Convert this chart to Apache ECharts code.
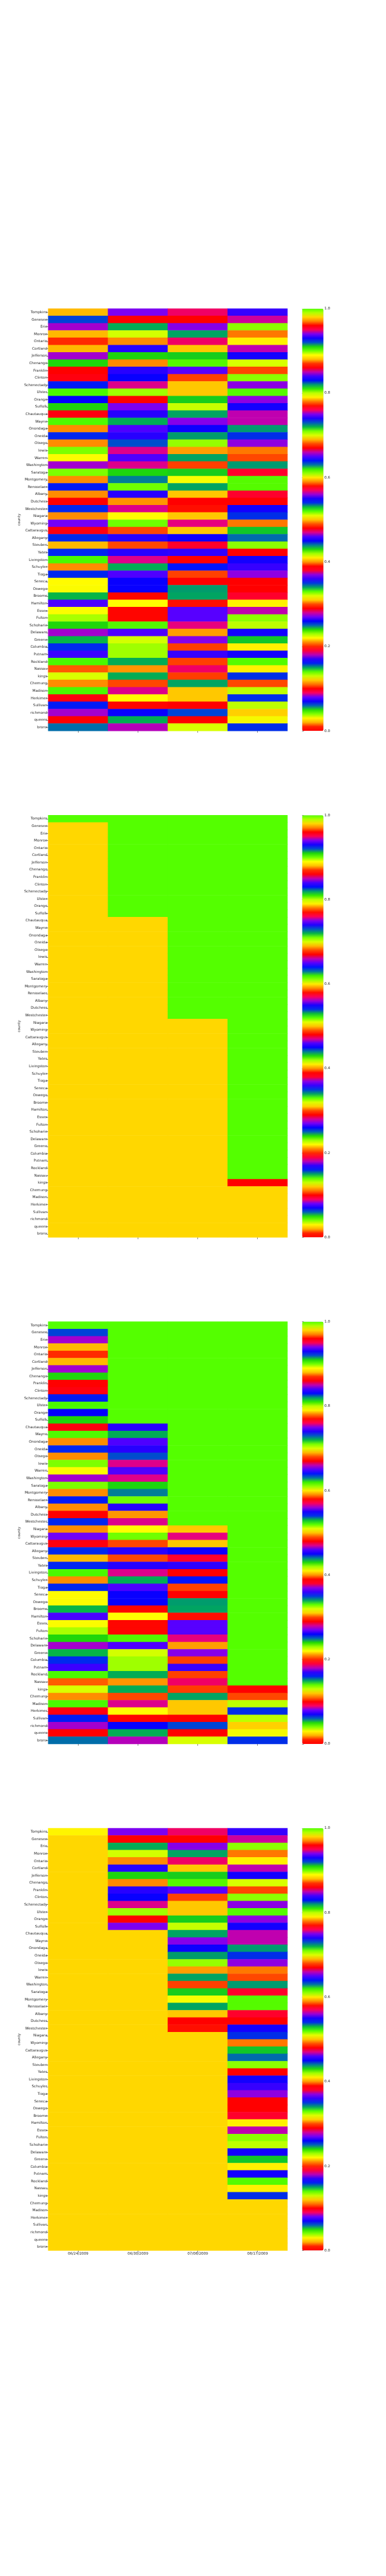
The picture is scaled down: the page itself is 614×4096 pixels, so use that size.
<!DOCTYPE html>
<html><head><meta charset="utf-8">
<script src="https://cdn.jsdelivr.net/npm/echarts@6/dist/echarts.min.js"></script>
<style>html,body{margin:0;padding:0;background:#fff}#c{width:614px;height:4096px}</style>
</head><body><div id="c"></div>
<script>
const COUNTIES = ['Tompkins','Genesee','Erie','Monroe','Ontario','Cortland','Jefferson','Chenango','Franklin','Clinton',
'Schenectady','Ulster','Orange','Suffolk','Chautauqua','Wayne','Onondaga','Oneida','Otsego','lewis',
'Warren','Washington','Saratoga','Montgomery','Rensselaer','Albany','Dutchess','Westchester','Niagara','Wyoming',
'Cattaraugus','Allegany','Steuben','Yates','Livingston','Schuyler','Tioga','Seneca','Oswego','Broome',
'Hamilton','Essex','Fulton','Schoharie','Delaware','Greene','Columbia','Putnam','Rockland','Nassau',
'kings','Chemung','Madison','Herkimer','Sullivan','richmond','queens','bronx'];
const DATES = ['06/24/2009','06/30/2009','07/08/2009','08/17/2009'];
const Y_TITLE = 'county';
const CBAR_MIN = 0.0, CBAR_MAX = 1.0, CBAR_STEP = 0.2;

// Panel 1
const P1_D1 = [0.2139,0.2536,0.2742,0.2120,0.2010,0.2120,0.2761,0.2416,0.1938,0.2857,
0.2574,0.2368,0.2608,0.2416,0.2861,0.2345,0.2091,0.2545,0.2086,0.2306,
0.2220,0.2742,0.2306,0.2101,0.2574,0.2086,0.1938,0.2555,0.2096,0.2727,
0.2857,0.2541,0.2120,0.2545,0.2368,0.2096,0.2555,0.2191,0.2220,0.2431,
0.2689,0.2220,0.2278,0.2416,0.2742,0.2426,0.2541,0.2656,0.2368,0.2043,
0.2239,0.2096,0.2368,0.2857,0.2574,0.2742,0.1938,0.2498];
const P1_D2 = [0.4636,0.3852,0.4354,0.4144,0.3986,0.4545,0.4306,0.3986,0.4545,0.4507,
0.4713,0.4196,0.3852,0.4636,0.4545,0.4354,0.4593,0.4541,0.4440,0.4699,
0.4603,0.4699,0.4306,0.4392,0.4249,0.4541,0.3995,0.4713,0.4105,0.4249,
0.3943,0.4541,0.3943,0.4541,0.4699,0.4354,0.4593,0.4507,0.4507,0.3890,
0.4105,0.3890,0.3885,0.4258,0.4603,0.4144,0.4196,0.4196,0.4354,0.4000,
0.4354,0.3943,0.4699,0.4105,0.3890,0.4507,0.4340,0.4684];
const P1_D3 = [0.6641,0.5766,0.6555,0.6258,0.6641,0.5967,0.6220,0.6172,0.6517,0.5856,
0.5967,0.5967,0.6220,0.6077,0.6258,0.6545,0.6421,0.6287,0.6105,0.5919,
0.6258,0.5856,0.6220,0.6029,0.6258,0.5967,0.5766,0.5804,0.5967,0.6612,
0.5967,0.6421,0.6679,0.6474,0.5766,0.6392,0.5856,0.5766,0.6287,0.6258,
0.5804,0.6517,0.6517,0.6612,0.5919,0.6545,0.5837,0.6483,0.5856,0.6641,
0.5837,0.6258,0.5967,0.5967,0.5766,0.6345,0.5766,0.6057];
const P1_D4 = [0.8397,0.8517,0.8034,0.7804,0.7923,0.8498,0.8345,0.7971,0.7766,0.8034,
0.8445,0.8086,0.8450,0.8345,0.8498,0.8498,0.8182,0.8282,0.8450,0.7804,
0.7766,0.8196,0.8565,0.8086,0.8086,0.8579,0.7679,0.8345,0.8282,0.7804,
0.8134,0.8239,0.8034,0.7679,0.8345,0.8397,0.8450,0.7679,0.7679,0.8565,
0.7919,0.8502,0.8034,0.7981,0.8345,0.8134,0.7919,0.8345,0.8086,0.7919,
0.8282,0.7761,0.7981,0.8282,0.7981,0.7880,0.7933,0.8282];

// Panel 2
const P2_D1 = [1.0,0.98,0.98,0.98,0.98,0.98,0.98,0.98,0.98,0.98,
0.98,0.98,0.98,0.98,0.98,0.98,0.98,0.98,0.98,0.98,
0.98,0.98,0.98,0.98,0.98,0.98,0.98,0.98,0.98,0.98,
0.98,0.98,0.98,0.98,0.98,0.98,0.98,0.98,0.98,0.98,
0.98,0.98,0.98,0.98,0.98,0.98,0.98,0.98,0.98,0.98,
0.98,0.98,0.98,0.98,0.98,0.98,0.98,0.98];
const P2_D2 = [1.0,1.0,1.0,1.0,1.0,1.0,1.0,1.0,1.0,1.0,
1.0,1.0,1.0,1.0,0.98,0.98,0.98,0.98,0.98,0.98,
0.98,0.98,0.98,0.98,0.98,0.98,0.98,0.98,0.98,0.98,
0.98,0.98,0.98,0.98,0.98,0.98,0.98,0.98,0.98,0.98,
0.98,0.98,0.98,0.98,0.98,0.98,0.98,0.98,0.98,0.98,
0.98,0.98,0.98,0.98,0.98,0.98,0.98,0.98];
const P2_D3 = [1.0,1.0,1.0,1.0,1.0,1.0,1.0,1.0,1.0,1.0,
1.0,1.0,1.0,1.0,1.0,1.0,1.0,1.0,1.0,1.0,
1.0,1.0,1.0,1.0,1.0,1.0,1.0,1.0,0.98,0.98,
0.98,0.98,0.98,0.98,0.98,0.98,0.98,0.98,0.98,0.98,
0.98,0.98,0.98,0.98,0.98,0.98,0.98,0.98,0.98,0.98,
0.98,0.98,0.98,0.98,0.98,0.98,0.98,0.98];
const P2_D4 = [1.0,1.0,1.0,1.0,1.0,1.0,1.0,1.0,1.0,1.0,
1.0,1.0,1.0,1.0,1.0,1.0,1.0,1.0,1.0,1.0,
1.0,1.0,1.0,1.0,1.0,1.0,1.0,1.0,1.0,1.0,
1.0,1.0,1.0,1.0,1.0,1.0,1.0,1.0,1.0,1.0,
1.0,1.0,1.0,1.0,1.0,1.0,1.0,1.0,1.0,1.0,
0.0,0.98,0.98,0.98,0.98,0.98,0.98,0.98];

// Panel 3
const P3_D1 = [1.0,0.2536,0.2742,0.2120,0.2010,0.2120,0.2761,0.2416,0.1938,0.2857,
0.2574,0.2368,0.2608,0.2416,0.2861,0.2345,0.2091,0.2545,0.2086,0.2306,
0.2220,0.2742,0.2306,0.2101,0.2574,0.2086,0.1938,0.2555,0.2096,0.2727,
0.2857,0.2541,0.2120,0.2545,0.2368,0.2096,0.2555,0.2191,0.2220,0.2431,
0.2689,0.2220,0.2278,0.2416,0.2742,0.2426,0.2541,0.2656,0.2368,0.2043,
0.2239,0.2096,0.2368,0.2857,0.2574,0.2742,0.1938,0.2498];
const P3_D2 = [1.0,1.0,1.0,1.0,1.0,1.0,1.0,1.0,1.0,1.0,
1.0,1.0,1.0,1.0,0.4545,0.4354,0.4593,0.4541,0.4440,0.4699,
0.4603,0.4699,0.4306,0.4392,0.4249,0.4541,0.3995,0.4713,0.4105,0.4249,
0.3943,0.4541,0.3943,0.4541,0.4699,0.4354,0.4593,0.4507,0.4507,0.3890,
0.4105,0.3890,0.3885,0.4258,0.4603,0.4144,0.4196,0.4196,0.4354,0.4000,
0.4354,0.3943,0.4699,0.4105,0.3890,0.4507,0.4340,0.4684];
const P3_D3 = [1.0,1.0,1.0,1.0,1.0,1.0,1.0,1.0,1.0,1.0,
1.0,1.0,1.0,1.0,1.0,1.0,1.0,1.0,1.0,1.0,
1.0,1.0,1.0,1.0,1.0,1.0,1.0,1.0,0.5967,0.6612,
0.5967,0.6421,0.6679,0.6474,0.5766,0.6392,0.5856,0.5766,0.6287,0.6258,
0.5804,0.6517,0.6517,0.6612,0.5919,0.6545,0.5837,0.6483,0.5856,0.6641,
0.5837,0.6258,0.5967,0.5967,0.5766,0.6345,0.5766,0.6057];
const P3_D4 = [1.0,1.0,1.0,1.0,1.0,1.0,1.0,1.0,1.0,1.0,
1.0,1.0,1.0,1.0,1.0,1.0,1.0,1.0,1.0,1.0,
1.0,1.0,1.0,1.0,1.0,1.0,1.0,1.0,1.0,1.0,
1.0,1.0,1.0,1.0,1.0,1.0,1.0,1.0,1.0,1.0,
1.0,1.0,1.0,1.0,1.0,1.0,1.0,1.0,1.0,1.0,
0.0,0.7761,0.7981,0.8282,0.7981,0.7880,0.7933,0.8282];

// Panel 4
const P4_D1 = [0.2187,0.98,0.98,0.98,0.98,0.98,0.98,0.98,0.98,0.98,
0.98,0.98,0.98,0.98,0.98,0.98,0.98,0.98,0.98,0.98,
0.98,0.98,0.98,0.98,0.98,0.98,0.98,0.98,0.98,0.98,
0.98,0.98,0.98,0.98,0.98,0.98,0.98,0.98,0.98,0.98,
0.98,0.98,0.98,0.98,0.98,0.98,0.98,0.98,0.98,0.98,
0.98,0.98,0.98,0.98,0.98,0.98,0.98,0.98];
const P4_D2 = [0.4636,0.3852,0.4354,0.4144,0.3986,0.4545,0.4306,0.3986,0.4545,0.4507,
0.4713,0.4196,0.3852,0.4636,0.98,0.98,0.98,0.98,0.98,0.98,
0.98,0.98,0.98,0.98,0.98,0.98,0.98,0.98,0.98,0.98,
0.98,0.98,0.98,0.98,0.98,0.98,0.98,0.98,0.98,0.98,
0.98,0.98,0.98,0.98,0.98,0.98,0.98,0.98,0.98,0.98,
0.98,0.98,0.98,0.98,0.98,0.98,0.98,0.98];
const P4_D3 = [0.6641,0.5766,0.6555,0.6258,0.6641,0.5967,0.6220,0.6172,0.6517,0.5856,
0.5967,0.5967,0.6220,0.6077,0.6258,0.6545,0.6421,0.6287,0.6105,0.5919,
0.6258,0.5856,0.6220,0.6029,0.6258,0.5967,0.5766,0.5804,0.98,0.98,
0.98,0.98,0.98,0.98,0.98,0.98,0.98,0.98,0.98,0.98,
0.98,0.98,0.98,0.98,0.98,0.98,0.98,0.98,0.98,0.98,
0.98,0.98,0.98,0.98,0.98,0.98,0.98,0.98];
const P4_D4 = [0.8397,0.8517,0.8034,0.7804,0.7923,0.8498,0.8345,0.7971,0.7766,0.8034,
0.8445,0.8086,0.8450,0.8345,0.8498,0.8498,0.8182,0.8282,0.8450,0.7804,
0.7766,0.8196,0.8565,0.8086,0.8086,0.8579,0.7679,0.8345,0.8282,0.7804,
0.8134,0.8239,0.8034,0.7679,0.8345,0.8397,0.8450,0.7679,0.7679,0.8565,
0.7919,0.8502,0.8034,0.7981,0.8345,0.8134,0.7919,0.8345,0.8086,0.7919,
0.8282,0.98,0.98,0.98,0.98,0.98,0.98,0.98];

const PANELS = [[P1_D1,P1_D2,P1_D3,P1_D4],[P2_D1,P2_D2,P2_D3,P2_D4],[P3_D1,P3_D2,P3_D3,P3_D4],[P4_D1,P4_D2,P4_D3,P4_D4]];

// matplotlib "prism" colormap, 256-entry LUT (each entry repeated to keep bands flat)
function prismColors(){
  const out=[]; const cl=v=>Math.max(0,Math.min(1,v));
  for(let i=0;i<256;i++){
    const x=i/255, t=x*20.9;
    const r=cl(0.75*Math.sin((t+0.25)*Math.PI)+0.67);
    const g=cl(0.75*Math.sin((t-0.25)*Math.PI)+0.33);
    const b=cl(-1.1*Math.sin(t*Math.PI));
    const c='rgb('+Math.round(r*255)+','+Math.round(g*255)+','+Math.round(b*255)+')';
    for(let k=0;k<4;k++) out.push(c);
  }
  return out;
}
const CMAP = prismColors();

const S = 0.568;
const FONT = 'DejaVu Sans';
const FS = 10*S;
const TXT = '#262626';
const PANEL_TOPS = [864,2282,3700,5118].map(v=>v*S);
const PANEL_H = 1182*S;
const HM_LEFT = 135*S, HM_W = 670*S;
const CB_LEFT = 846*S, CB_W = 60*S;
const TICK_LEN = 4.9*S;
const YTITLE_X = 53*S;

const grid=[], xAxis=[], yAxis=[], series=[], visualMap=[], graphic=[];
PANELS.forEach((cols,pi)=>{
  grid.push({left:HM_LEFT, top:PANEL_TOPS[pi], width:HM_W, height:PANEL_H});
  xAxis.push({type:'category', gridIndex:pi, data:DATES,
    axisLine:{show:false}, splitLine:{show:false},
    axisTick:{show:true, alignWithLabel:true, length:TICK_LEN, lineStyle:{color:TXT,width:0.6}},
    axisLabel:{show:pi===3, fontSize:FS, fontFamily:FONT, color:TXT, margin:2}});
  yAxis.push({type:'category', gridIndex:pi, data:COUNTIES, inverse:true,
    axisLine:{show:false}, splitLine:{show:false},
    axisTick:{show:true, alignWithLabel:true, length:TICK_LEN, lineStyle:{color:TXT,width:0.6}},
    axisLabel:{interval:0, fontSize:FS, fontFamily:FONT, color:TXT, margin:1.5}});
  const data=[];
  cols.forEach((arr,ci)=>arr.forEach((v,ri)=>data.push([ci,ri,v])));
  series.push({type:'heatmap', xAxisIndex:pi, yAxisIndex:pi, data:data, progressive:0,
    itemStyle:{borderWidth:0}, emphasis:{disabled:true}});
  visualMap.push({type:'continuous', seriesIndex:pi, min:CBAR_MIN, max:CBAR_MAX,
    left:CB_LEFT, top:PANEL_TOPS[pi], itemWidth:CB_W, itemHeight:PANEL_H,
    padding:0, calculable:false, hoverLink:false, text:null, showLabel:false,
    inRange:{color:CMAP}});
  graphic.push({type:'text', x:YTITLE_X, y:PANEL_TOPS[pi]+PANEL_H/2, rotation:Math.PI/2, silent:true,
    style:{text:Y_TITLE, fill:TXT, font:FS+'px "'+FONT+'"', textAlign:'center', textVerticalAlign:'middle'}});
});
// colorbar tick axes
PANELS.forEach((cols,pi)=>{
  const gi = 4+pi;
  grid.push({left:CB_LEFT, top:PANEL_TOPS[pi], width:CB_W, height:PANEL_H});
  xAxis.push({type:'value', gridIndex:gi, show:false, min:0, max:1});
  yAxis.push({type:'value', gridIndex:gi, position:'right', min:CBAR_MIN, max:CBAR_MAX, interval:CBAR_STEP,
    axisLine:{show:false}, splitLine:{show:false},
    axisTick:{show:true, length:TICK_LEN, lineStyle:{color:TXT,width:0.6}},
    axisLabel:{fontSize:FS, fontFamily:FONT, color:TXT, margin:1.5, formatter:v=>v.toFixed(1)}});
  series.push({type:'line', xAxisIndex:gi, yAxisIndex:gi, data:[], silent:true});
});

const chart = echarts.init(document.getElementById('c'), null, {renderer:'canvas'});
chart.setOption({animation:false, backgroundColor:'#fff', grid, xAxis, yAxis, series, visualMap, graphic});
</script></body></html>
